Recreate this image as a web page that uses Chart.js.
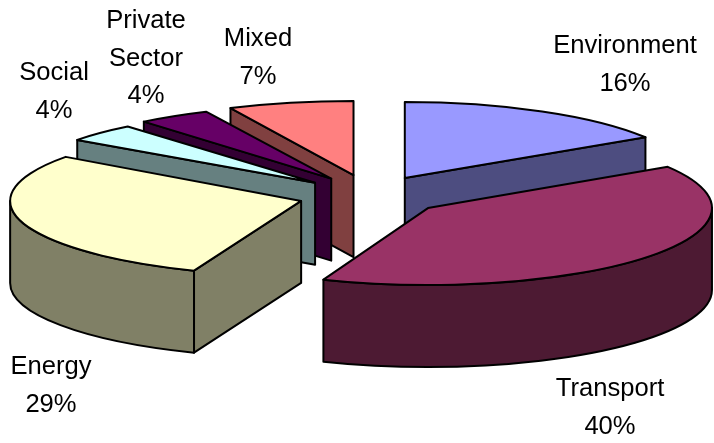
<!DOCTYPE html>
<html>
<head>
<meta charset="utf-8">
<style>html,body{margin:0;padding:0;background:#fff}canvas{display:block}</style>
<script src="https://cdn.jsdelivr.net/npm/chart.js@4"></script>
</head>
<body>
<canvas id="c" width="714" height="443"></canvas>
<script>
const categories = ['Environment','Transport','Energy','Social','Private Sector','Mixed'];
const shareValues = [16,40,29,4,4,7];
const topColors = ['#9999FF','#993366','#FFFFCC','#CCFFFF','#660066','#FF8080'];
const wallColors = ['#4D4D80','#4D1A33','#808066','#668080','#330033','#804040'];
const labelLines = [['Environment','16%'],['Transport','40%'],['Energy','29%'],['Social','4%'],['Private','Sector','4%'],['Mixed','7%']];
const labelAnchors = [[625,46],[610,389],[51,367],[54,73],[146,21],[258,39]];
const paintOrder = [0,5,4,3,2,1];
const sliceRx = [285,284,291,294,294,289];
const sliceRy = [76,77,75,73,74,74];
const sliceNudgeX = [-2,0,0,-3,-1,-2];
const sliceNudgeY = [0,0,0,1,0,-1];

const view = {cx:371.5, cy:195.4, baseRx:284, baseRy:77, depth:82, explode:0.258, lineHeight:37.7};

const pie3d = {
  id:'pie3d',
  beforeDatasetsDraw(chart){
    const ctx = chart.ctx, arcs = chart.getDatasetMeta(0).data;
    const {cx,cy,baseRx,baseRy,depth,explode} = view;
    ctx.save();
    ctx.lineWidth = 2; ctx.lineJoin = 'round'; ctx.strokeStyle = '#000';
    paintOrder.forEach(i=>{
      const arc = arcs[i];
      const rx = sliceRx[i], ry = sliceRy[i];
      const a = arc.startAngle, b = arc.endAngle, mid = (a+b)/2;
      const ax = cx + explode*baseRx*Math.cos(mid) + sliceNudgeX[i];
      const ay = cy + explode*baseRy*Math.sin(mid) + sliceNudgeY[i];
      const rimPt = t => [ax+rx*Math.cos(t), ay+ry*Math.sin(t)];
      const face = (t)=>{
        const p = rimPt(t);
        ctx.beginPath();
        ctx.moveTo(ax,ay); ctx.lineTo(p[0],p[1]);
        ctx.lineTo(p[0],p[1]+depth); ctx.lineTo(ax,ay+depth); ctx.closePath();
        ctx.fillStyle = wallColors[i]; ctx.fill(); ctx.stroke();
      };
      if (Math.cos(a) < -1e-6) face(a);
      if (Math.cos(b) > 1e-6) face(b);
      const r1 = Math.max(a,0), r2 = Math.min(b,Math.PI);
      if (r2 > r1) {
        const p2 = rimPt(r2);
        ctx.beginPath();
        ctx.ellipse(ax,ay,rx,ry,0,r1,r2);
        ctx.lineTo(p2[0],p2[1]+depth);
        ctx.ellipse(ax,ay+depth,rx,ry,0,r2,r1,true);
        ctx.closePath();
        ctx.fillStyle = wallColors[i]; ctx.fill(); ctx.stroke();
      }
      // top face: the library's arc element, squashed into perspective
      ctx.save();
      ctx.translate(ax,ay);
      ctx.scale(rx/arc.outerRadius, ry/arc.outerRadius);
      ctx.translate(-arc.x,-arc.y);
      arc.draw(ctx);
      ctx.restore();
      ctx.beginPath();
      ctx.moveTo(ax,ay);
      ctx.ellipse(ax,ay,rx,ry,0,a,b);
      ctx.closePath();
      ctx.stroke();
    });
    ctx.fillStyle = '#000';
    ctx.font = '25.6px "Liberation Sans", Arial, sans-serif';
    ctx.textAlign = 'center'; ctx.textBaseline = 'middle';
    labelLines.forEach((lines,i)=>{
      lines.forEach((t,k)=>ctx.fillText(t, labelAnchors[i][0], labelAnchors[i][1]+k*view.lineHeight));
    });
    ctx.restore();
    return false;
  }
};

new Chart(document.getElementById('c'),{
  type:'pie',
  data:{labels:categories,datasets:[{data:shareValues,backgroundColor:topColors,borderWidth:0}]},
  options:{
    responsive:false,animation:false,
    plugins:{legend:{display:false},tooltip:{enabled:false}},
    layout:{padding:0}
  },
  plugins:[pie3d]
});
</script>
</body>
</html>
